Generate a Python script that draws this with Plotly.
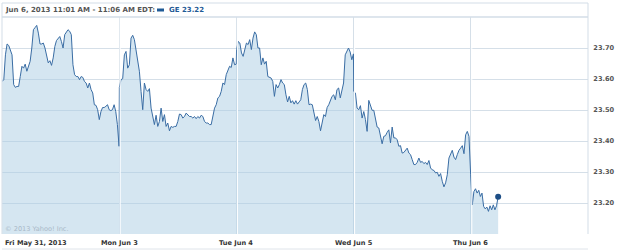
import numpy as np
import plotly.graph_objects as go

# ---- data (GE intraday price, 5 sessions) ----
day_labels = ["Fri May 31, 2013", "Mon Jun 3", "Tue Jun 4", "Wed Jun 5", "Thu Jun 6"]

fri = [23.592, 23.598, 23.678, 23.713, 23.708, 23.689, 23.678, 23.582, 23.573, 23.576,
       23.576, 23.608, 23.641, 23.635, 23.648, 23.625, 23.641, 23.657, 23.700, 23.759,
       23.766, 23.773, 23.748, 23.713, 23.713, 23.716, 23.700, 23.678, 23.652, 23.659,
       23.644, 23.668, 23.705, 23.724, 23.730, 23.737, 23.721, 23.700, 23.743, 23.752,
       23.759, 23.754, 23.743, 23.646, 23.614, 23.608, 23.608, 23.598, 23.608, 23.605,
       23.592, 23.587, 23.571, 23.587, 23.566, 23.555, 23.517, 23.515, 23.501, 23.469,
       23.495, 23.508, 23.508, 23.512, 23.517, 23.501, 23.498, 23.501, 23.517, 23.495,
       23.453, 23.383]

mon = [23.573, 23.598, 23.601, 23.678, 23.689, 23.635, 23.646, 23.732, 23.741, 23.727,
       23.689, 23.657, 23.625, 23.560, 23.501, 23.587, 23.566, 23.560, 23.569, 23.506,
       23.474, 23.453, 23.483, 23.447, 23.463, 23.506, 23.463, 23.485, 23.447, 23.458,
       23.433, 23.447, 23.444, 23.447, 23.447, 23.463, 23.487, 23.485, 23.474, 23.479,
       23.490, 23.483, 23.479, 23.479, 23.474, 23.479, 23.472, 23.479, 23.474, 23.483,
       23.479, 23.463, 23.458, 23.458, 23.453, 23.453, 23.485, 23.506, 23.517, 23.539,
       23.544, 23.560, 23.587, 23.582, 23.614, 23.630, 23.641, 23.637, 23.668, 23.646,
       23.648]

tue = [23.695, 23.721, 23.716, 23.684, 23.673, 23.700, 23.716, 23.711, 23.727, 23.695,
       23.732, 23.752, 23.743, 23.700, 23.700, 23.646, 23.668, 23.648, 23.657, 23.608,
       23.605, 23.603, 23.592, 23.544, 23.582, 23.571, 23.582, 23.598, 23.587, 23.582,
       23.549, 23.526, 23.544, 23.523, 23.530, 23.519, 23.530, 23.519, 23.526, 23.533,
       23.566, 23.582, 23.587, 23.566, 23.517, 23.519, 23.517, 23.485, 23.466, 23.479,
       23.463, 23.433, 23.463, 23.485, 23.479, 23.508, 23.517, 23.533, 23.544, 23.549,
       23.533, 23.566, 23.571, 23.539, 23.566, 23.587, 23.678, 23.691, 23.700, 23.687,
       23.662, 23.681]

wed = [23.560, 23.555, 23.506, 23.501, 23.514, 23.474, 23.495, 23.469, 23.431, 23.531,
       23.517, 23.499, 23.499, 23.474, 23.445, 23.442, 23.415, 23.391, 23.415, 23.417,
       23.428, 23.436, 23.394, 23.445, 23.410, 23.410, 23.404, 23.383, 23.385, 23.361,
       23.363, 23.372, 23.377, 23.361, 23.356, 23.340, 23.324, 23.324, 23.331, 23.345,
       23.331, 23.334, 23.327, 23.331, 23.324, 23.337, 23.313, 23.307, 23.305, 23.297,
       23.299, 23.286, 23.295, 23.270, 23.252, 23.265, 23.291, 23.345, 23.361, 23.370,
       23.348, 23.340, 23.356, 23.370, 23.377, 23.385, 23.359, 23.420, 23.431, 23.415,
       23.291]

thu = [23.194, 23.237, 23.246, 23.232, 23.241, 23.221, 23.232, 23.189, 23.181, 23.187,
       23.173, 23.191, 23.178, 23.194, 23.178, 23.191, 23.220]

days = [fri, mon, tue, wed, thu]
session_len = 390            # minutes per trading session (9:30-16:00)
thu_span = (5, 91)           # minutes after open covered on the last day

last_price = 23.22
y_ticks = [23.20, 23.30, 23.40, 23.50, 23.60, 23.70]
y_range = [23.10, 23.80]

# ---- build x positions (minutes on a continuous session axis) ----
xs, ys = [], []
for d, arr in enumerate(days):
    if d < len(days) - 1:
        m = np.linspace(0.5, session_len - 0.5, len(arr))
    else:
        m = np.linspace(thu_span[0], thu_span[1], len(arr))
    xs.extend((d * session_len + m).tolist())
    ys.extend(arr)

# ---- layout geometry helpers ----
W, H = 625, 251
L, R, T, B = 2, 588, 17, 234
def px(xp):
    return (xp - L) / (R - L)
def py(yp):
    return (B - yp) / (B - T)

x_max = session_len * len(days)
one_px = x_max / (R - L)

line_col = "#3a6da4"
fill_col = "rgba(172,205,228,0.5)"
grid_col = "#d5dfe8"

fig = go.Figure()
fig.add_trace(go.Scatter(
    x=xs, y=ys, mode="lines", fill="tozeroy", fillcolor=fill_col,
    line=dict(color=line_col, width=1.0), hoverinfo="skip", showlegend=False))
fig.add_trace(go.Scatter(
    x=[xs[-1]], y=[last_price], mode="markers",
    marker=dict(color="#1d4e86", size=6), hoverinfo="skip", showlegend=False))

shapes = []
# white inner part of the day separators (drawn above the fill)
for d in range(1, len(days)):
    xv = d * session_len + one_px
    shapes.append(dict(type="line", xref="x", yref="paper", x0=xv, x1=xv, y0=0, y1=1,
                       line=dict(color="white", width=1), layer="above"))
# plot frame (left, top, right)
for (x0, y0, x1, y1) in [(0, 0, 0, 1), (0, 1, 1, 1), (1, 0, 1, 1)]:
    shapes.append(dict(type="line", xref="paper", yref="paper", x0=x0, y0=y0, x1=x1, y1=y1,
                       line=dict(color="#d3dde7", width=1), layer="above"))
# header box
shapes.append(dict(type="rect", xref="paper", yref="paper", x0=0, x1=1, y0=py(17), y1=py(3),
                   line=dict(color="#d3dde7", width=1), fillcolor="rgba(0,0,0,0)"))
# legend swatch
shapes.append(dict(type="rect", xref="paper", yref="paper", x0=px(157), x1=px(164),
                   y0=py(11.5), y1=py(8.5), line=dict(width=0), fillcolor="#1f5a96"))
# bottom line under the labels
shapes.append(dict(type="line", xref="paper", yref="paper", x0=0, x1=1, y0=py(249), y1=py(249),
                   line=dict(color="#dfe4ea", width=1)))

font_fam = "DejaVu Sans"
annotations = [
    dict(text="Jun 6, 2013 11:01 AM - 11:06 AM EDT:", xref="paper", yref="paper",
         x=px(3), y=py(10), xanchor="left", yanchor="middle", showarrow=False,
         font=dict(family=font_fam, size=7, color="#555555", weight="bold")),
    dict(text="GE 23.22", xref="paper", yref="paper",
         x=px(167), y=py(10), xanchor="left", yanchor="middle", showarrow=False,
         font=dict(family=font_fam, size=7, color="#1f5a96", weight="bold")),
    dict(text="© 2013 Yahoo! Inc.", xref="paper", yref="paper",
         x=px(3), y=py(228.5), xanchor="left", yanchor="middle", showarrow=False,
         font=dict(family=font_fam, size=6.6, color="#a9b9c8")),
]
for d, lab in enumerate(day_labels):
    annotations.append(dict(
        text=lab, xref="x", yref="paper", x=d * session_len, y=py(242.5),
        xanchor="left" if d == 0 else "center", yanchor="middle", showarrow=False,
        xshift=1 if d == 0 else 0,
        font=dict(family=font_fam, size=6.6, color="#333333", weight="bold")))

fig.update_layout(
    width=W, height=H, autosize=False,
    margin=dict(l=L, r=W - R, t=T, b=H - B, pad=0),
    paper_bgcolor="white", plot_bgcolor="white",
    shapes=shapes, annotations=annotations, showlegend=False,
    xaxis=dict(range=[0, x_max], tickvals=[d * session_len for d in range(1, len(days))],
               showticklabels=False, ticks="", showgrid=True, gridcolor=grid_col,
               gridwidth=1, zeroline=False, showline=False, fixedrange=True),
    yaxis=dict(range=y_range, side="right", tickvals=y_ticks,
               ticktext=[f"{v:.2f}" for v in y_ticks], showgrid=True, gridcolor=grid_col,
               gridwidth=1, zeroline=False, showline=False, ticks="outside", ticklen=3,
               tickcolor="rgba(0,0,0,0)",
               tickfont=dict(family=font_fam, size=6.6, color="#555555", weight="bold"),
               fixedrange=True),
)

fig.write_html("out.html", config={"displayModeBar": False})
